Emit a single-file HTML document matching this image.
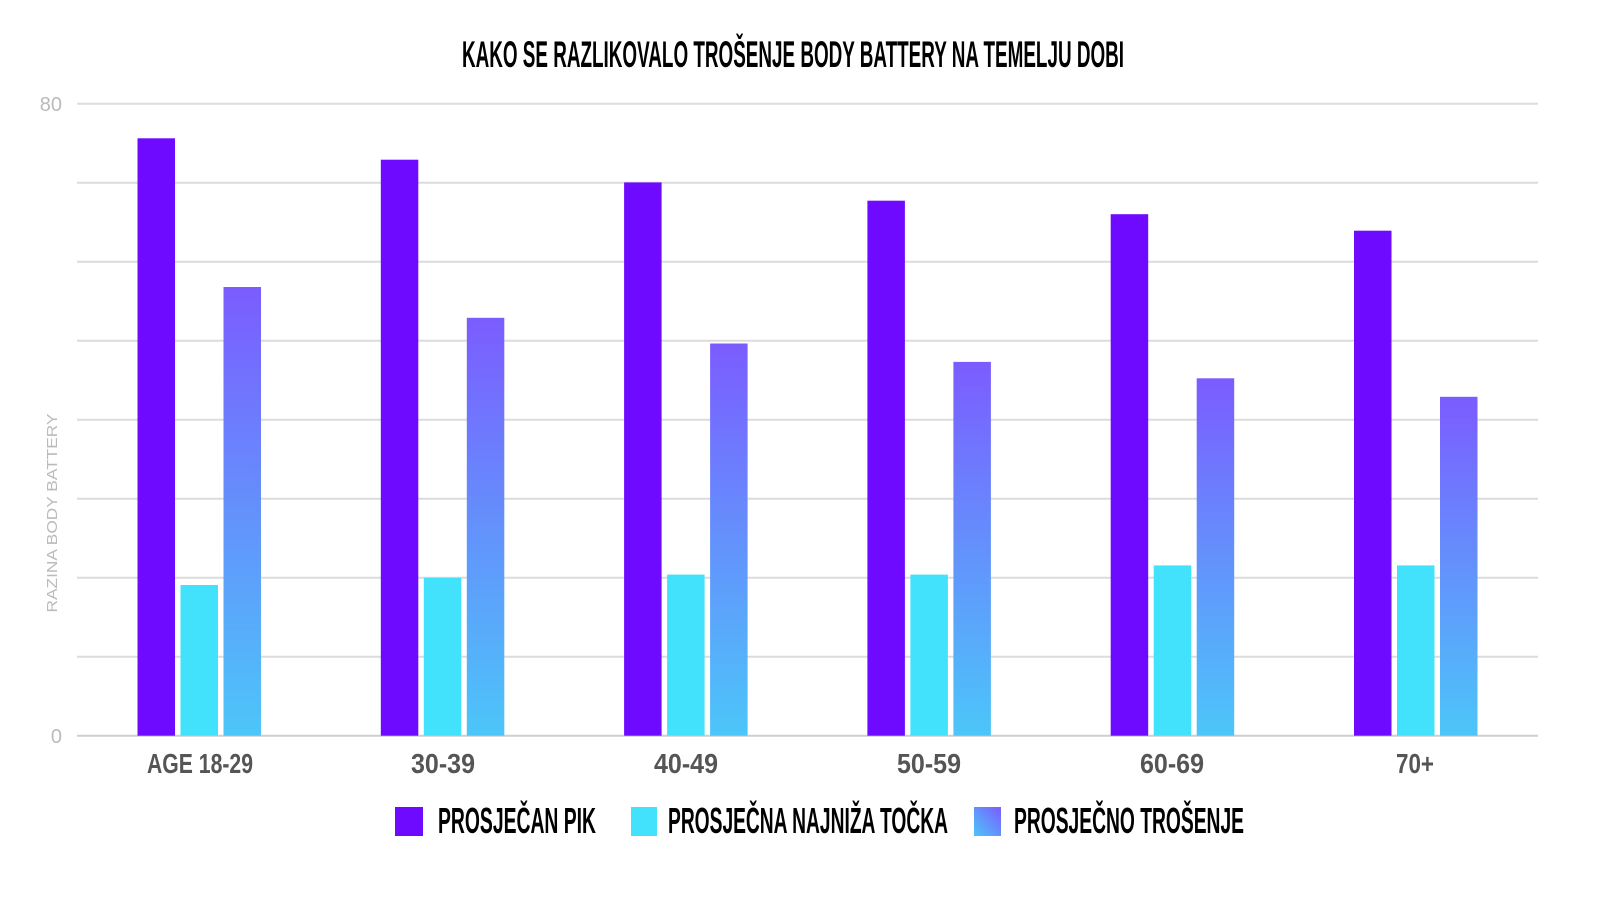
<!DOCTYPE html>
<html><head><meta charset="utf-8"><style>
html,body{margin:0;padding:0;background:#fff;}
svg{display:block;}
.c{font-family:"Liberation Sans Narrow","Liberation Sans",sans-serif;font-weight:bold;}
</style></head><body>
<svg width="1600" height="900" viewBox="0 0 1600 900" xmlns="http://www.w3.org/2000/svg">
<defs>
<linearGradient id="g" x1="0" y1="0" x2="0" y2="1">
<stop offset="0" stop-color="#7b5cff"/><stop offset="1" stop-color="#4cc6f9"/>
</linearGradient>
<linearGradient id="gl" x1="1" y1="0" x2="0" y2="1">
<stop offset="0" stop-color="#7b5cff"/><stop offset="1" stop-color="#4cc6f9"/>
</linearGradient>
</defs>
<text class="c" x="793" y="67" text-anchor="middle" font-size="37" fill="#000" textLength="662" lengthAdjust="spacingAndGlyphs">KAKO SE RAZLIKOVALO TROŠENJE BODY BATTERY NA TEMELJU DOBI</text>
<g stroke="#dcdcdc" stroke-width="2">
<line x1="77" x2="1538" y1="103.7" y2="103.7"/>
<line x1="77" x2="1538" y1="182.7" y2="182.7"/>
<line x1="77" x2="1538" y1="261.7" y2="261.7"/>
<line x1="77" x2="1538" y1="340.7" y2="340.7"/>
<line x1="77" x2="1538" y1="419.7" y2="419.7"/>
<line x1="77" x2="1538" y1="498.7" y2="498.7"/>
<line x1="77" x2="1538" y1="577.7" y2="577.7"/>
<line x1="77" x2="1538" y1="656.7" y2="656.7"/>
<line x1="77" x2="1538" y1="735.7" y2="735.7" stroke="#cfcfcf"/>
</g>
<g font-family="Liberation Sans,sans-serif" font-size="20" fill="#bbb">
<text x="62" y="111" text-anchor="end">80</text>
<text x="62" y="743" text-anchor="end">0</text>
<text transform="translate(57,513) rotate(-90)" text-anchor="middle" font-size="15" textLength="199" lengthAdjust="spacingAndGlyphs">RAZINA BODY BATTERY</text>
</g>
<g>
<rect x="137.5" y="138.3" width="37.5" height="597.4" fill="#6e0aff"/>
<rect x="180.5" y="585" width="37.5" height="150.7" fill="#42e2fd"/>
<rect x="223.5" y="287" width="37.5" height="448.7" fill="url(#g)"/>

<rect x="380.8" y="159.7" width="37.5" height="576" fill="#6e0aff"/>
<rect x="423.8" y="577.7" width="37.5" height="158" fill="#42e2fd"/>
<rect x="466.8" y="317.8" width="37.5" height="417.9" fill="url(#g)"/>

<rect x="624.1" y="182.4" width="37.5" height="553.3" fill="#6e0aff"/>
<rect x="667.1" y="574.6" width="37.5" height="161.1" fill="#42e2fd"/>
<rect x="710.1" y="343.5" width="37.5" height="392.2" fill="url(#g)"/>

<rect x="867.4" y="200.7" width="37.5" height="535" fill="#6e0aff"/>
<rect x="910.4" y="574.6" width="37.5" height="161.1" fill="#42e2fd"/>
<rect x="953.4" y="361.9" width="37.5" height="373.8" fill="url(#g)"/>

<rect x="1110.7" y="214.2" width="37.5" height="521.5" fill="#6e0aff"/>
<rect x="1153.7" y="565.4" width="37.5" height="170.3" fill="#42e2fd"/>
<rect x="1196.7" y="378.3" width="37.5" height="357.4" fill="url(#g)"/>

<rect x="1354" y="230.7" width="37.5" height="505" fill="#6e0aff"/>
<rect x="1397" y="565.4" width="37.5" height="170.3" fill="#42e2fd"/>
<rect x="1440" y="396.8" width="37.5" height="338.9" fill="url(#g)"/>
</g>
<g class="c" font-size="28" fill="#555" text-anchor="middle">
<text x="200" y="773" textLength="106" lengthAdjust="spacingAndGlyphs">AGE 18-29</text>
<text x="443" y="773" textLength="64" lengthAdjust="spacingAndGlyphs">30-39</text>
<text x="686" y="773" textLength="64" lengthAdjust="spacingAndGlyphs">40-49</text>
<text x="929" y="773" textLength="64" lengthAdjust="spacingAndGlyphs">50-59</text>
<text x="1172" y="773" textLength="64" lengthAdjust="spacingAndGlyphs">60-69</text>
<text x="1415" y="773" textLength="38" lengthAdjust="spacingAndGlyphs">70+</text>
</g>
<rect x="395" y="810" width="28" height="29" fill="#6e0aff" transform="translate(0,-3)"/>
<rect x="631" y="807" width="26" height="29" fill="#42e2fd"/>
<rect x="974" y="807" width="27" height="29" fill="url(#gl)"/>
<g class="c" font-size="36" fill="#000">
<text x="438" y="833" textLength="158" lengthAdjust="spacingAndGlyphs">PROSJEČAN PIK</text>
<text x="668" y="833" textLength="280" lengthAdjust="spacingAndGlyphs">PROSJEČNA NAJNIŽA TOČKA</text>
<text x="1014" y="833" textLength="230" lengthAdjust="spacingAndGlyphs">PROSJEČNO TROŠENJE</text>
</g>
</svg>
</body></html>
